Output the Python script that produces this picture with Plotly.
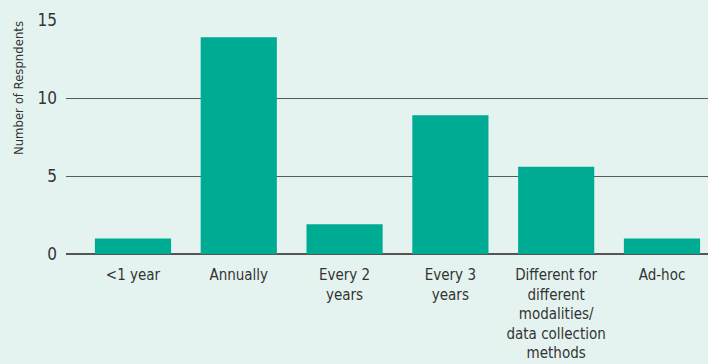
import plotly.graph_objects as go

categories = ["<1 year", "Annually", "Every 2<br>years", "Every 3<br>years",
              "Different for<br>different<br>modalities/<br>data collection<br>methods", "Ad-hoc"]
respondents = [1, 13.9, 1.9, 8.9, 5.6, 1]
y_ticks = [0, 5, 10, 15]

BG = "#e4f3ef"
BAR = "#00ab94"
FONT = "DejaVu Sans Condensed, Roboto Condensed, Roboto, sans-serif"

fig = go.Figure(go.Bar(x=list(range(len(categories))), y=respondents,
                       marker=dict(color=BAR, line=dict(width=0)), width=0.72))

fig.update_layout(
    width=708, height=364,
    margin=dict(l=66, r=0, t=20, b=110),
    paper_bgcolor=BG, plot_bgcolor=BG,
    showlegend=False,
    font=dict(family=FONT, color="#333333"),
    xaxis=dict(tickmode="array", tickvals=list(range(len(categories))), ticktext=categories,
               range=[-0.633, 5.435], showgrid=False, zeroline=False, showline=False,
               tickfont=dict(size=15, color="#333333"), ticks="", ticklabelstandoff=10),
    yaxis=dict(range=[0, 15], tickvals=y_ticks, showgrid=True, gridcolor="#5a5a5a", gridwidth=1,
               zeroline=True, zerolinecolor="#555555", zerolinewidth=2,
               tickfont=dict(size=17, color="#333333"), ticks="", ticklabelstandoff=8),
    annotations=[dict(text="Number of Respndents", textangle=-90, xref="paper", yref="paper",
                      x=-0.0748, y=0.709, xanchor="center", yanchor="middle", showarrow=False,
                      font=dict(size=13, color="#333333"))],
)

fig.write_html("out.html")
